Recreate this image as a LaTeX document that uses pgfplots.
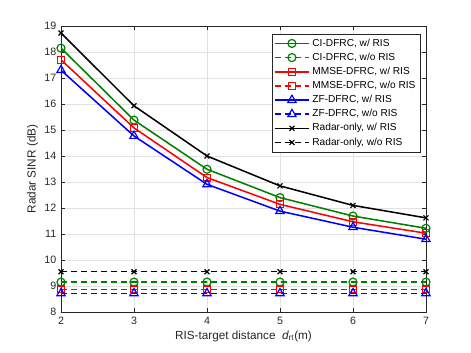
\documentclass[border=0pt]{standalone}
\usepackage{fontspec}
\setmainfont{Liberation Sans}
\usepackage{pgfplots}
\pgfplotsset{compat=1.18}
\definecolor{mgreen}{RGB}{0,128,0}
\definecolor{gridgray}{RGB}{225,225,225}
\definecolor{axgray}{RGB}{38,38,38}

\begin{document}
\begin{tikzpicture}
\path[use as bounding box] (0pt,0pt) rectangle (353.25pt,264.75pt);
\begin{axis}[
  at={(45.75pt,30.75pt)}, anchor=south west,
  scale only axis, width=273.75pt, height=214.5pt,
  xmin=2, xmax=7, ymin=8, ymax=19,
  xtick={2,...,7}, ytick={8,...,19},
  grid=major, major grid style={gridgray, line width=0.4pt},
  axis line style={axgray, line width=0.4pt},
  tick style={axgray, line width=0.4pt}, tick align=inside,
  major tick length=3pt,
  /pgf/number format/assume math mode=true,
  ticklabel style={font=\fontsize{8}{9}\selectfont, text=axgray},
  label style={font=\fontsize{8.8}{10}\selectfont, text=axgray},
  xlabel={RIS-target distance\ \ {\itshape d}\textsubscript{rt}(m)},
  ylabel={Radar SINR (dB)},
  xlabel style={yshift=2pt},
  ylabel style={yshift=-2pt},
  legend style={at={(0.985,0.973)}, anchor=north east,
    font=\fontsize{7.6}{8.8}\selectfont, draw=axgray,
    fill=white, inner sep=1.6pt, row sep=-0.4pt},
  legend cell align=left,
  legend image code/.code={\draw[mark repeat=2,mark phase=2]
    plot coordinates {(0cm,0cm)(0.45cm,0cm)(0.9cm,0cm)};},
  ln/.style={line width=1.15pt, mark options={solid, line width=0.9pt}},
  dsh/.style={line width=1.15pt, dash pattern=on 4.5pt off 3pt, mark options={solid, line width=0.9pt}},
]
\addplot[mgreen, ln, mark=o, mark size=3pt] coordinates {(2,18.15) (3,15.38) (4,13.49) (5,12.40) (6,11.69) (7,11.22)};
\addlegendentry{CI-DFRC, w/ RIS}
\addplot[mgreen, dsh, mark=o, mark size=3pt] coordinates {(2,9.15) (3,9.15) (4,9.15) (5,9.15) (6,9.15) (7,9.15)};
\addlegendentry{CI-DFRC, w/o RIS}
\addplot[red, ln, mark=square, mark size=2.6pt] coordinates {(2,17.70) (3,15.08) (4,13.17) (5,12.14) (6,11.47) (7,11.03)};
\addlegendentry{MMSE-DFRC, w/ RIS}
\addplot[red, dsh, mark=square, mark size=2.6pt] coordinates {(2,8.87) (3,8.87) (4,8.87) (5,8.87) (6,8.87) (7,8.87)};
\addlegendentry{MMSE-DFRC, w/o RIS}
\addplot[blue, ln, mark=triangle, mark size=3.6pt] coordinates {(2,17.30) (3,14.77) (4,12.91) (5,11.88) (6,11.26) (7,10.80)};
\addlegendentry{ZF-DFRC, w/ RIS}
\addplot[blue, dsh, mark=triangle, mark size=3.6pt] coordinates {(2,8.72) (3,8.72) (4,8.72) (5,8.72) (6,8.72) (7,8.72)};
\addlegendentry{ZF-DFRC, w/o RIS}
\addplot[black, ln, mark=x, mark size=2.6pt] coordinates {(2,18.73) (3,15.93) (4,14.00) (5,12.85) (6,12.10) (7,11.62)};
\addlegendentry{Radar-only, w/ RIS}
\addplot[black, dsh, mark=x, mark size=2.6pt] coordinates {(2,9.55) (3,9.55) (4,9.55) (5,9.55) (6,9.55) (7,9.55)};
\addlegendentry{Radar-only, w/o RIS}
\end{axis}
\end{tikzpicture}
\end{document}
